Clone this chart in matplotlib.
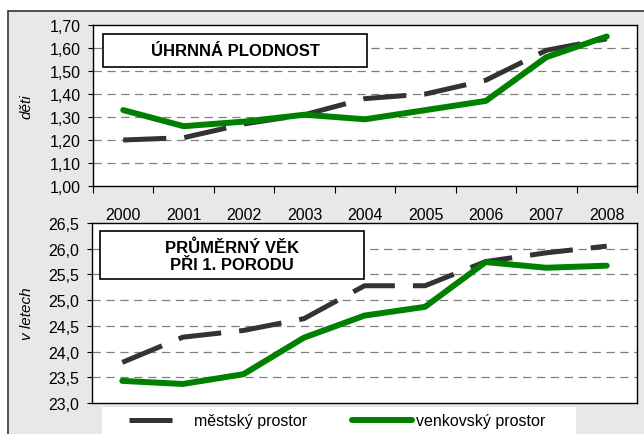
import matplotlib.pyplot as plt
from matplotlib.patches import Rectangle
from matplotlib.lines import Line2D
from matplotlib.ticker import FuncFormatter

plt.rcParams['font.family'] = ['Liberation Sans', 'DejaVu Sans']
plt.rcParams['lines.scale_dashes'] = False

years = ['2000', '2001', '2002', '2003', '2004', '2005', '2006', '2007', '2008']

# úhrnná plodnost (děti)
tfr_mesto = [1.20, 1.21, 1.27, 1.31, 1.38, 1.40, 1.46, 1.59, 1.64]
tfr_venkov = [1.33, 1.26, 1.28, 1.31, 1.29, 1.33, 1.37, 1.56, 1.65]

# průměrný věk při 1. porodu (v letech)
age_mesto = [23.79, 24.28, 24.41, 24.64, 25.28, 25.28, 25.75, 25.92, 26.05]
age_venkov = [23.43, 23.37, 23.56, 24.27, 24.70, 24.87, 25.74, 25.63, 25.67]

W, H = 644, 435
fig = plt.figure(figsize=(W / 100, H / 100), dpi=100)
fig.patch.set_facecolor('white')

# gray chart area with dark border
fig.patches.append(Rectangle((8 / W, -0.01), 1.0, (H - 12) / H + 0.01,
                             transform=fig.transFigure, facecolor='#e8e8e8',
                             edgecolor='#333333', lw=1.2, zorder=-10))

dark = '#333333'
green = '#008000'
x = list(range(len(years)))
fs = 11.5


def style_axes(ax, ymin, ymax, step, fmt):
    ax.set_facecolor('white')
    ax.set_xlim(-0.5, len(years) - 0.5)
    ax.set_ylim(ymin, ymax)
    ticks = []
    v = ymin
    while v <= ymax + 1e-9:
        ticks.append(round(v, 3))
        v += step
    ax.set_yticks(ticks)
    ax.yaxis.set_major_formatter(FuncFormatter(lambda val, p: (fmt % val).replace('.', ',')))
    for t in ticks[1:-1]:
        ax.axhline(t, color='#808080', lw=0.9, dashes=(6, 4), zorder=1)
    for s in ax.spines.values():
        s.set_color('black')
        s.set_linewidth(1.0)
    ax.tick_params(axis='y', direction='out', length=3.5, width=0.8, labelsize=fs, pad=5.5)


ax1 = fig.add_axes([93 / W, (H - 187) / H, 544 / W, 161 / H])
style_axes(ax1, 1.0, 1.7, 0.1, '%.2f')
ax1.plot(x, tfr_mesto, color=dark, lw=3.6, dashes=(31, 13), solid_capstyle='butt',
         dash_capstyle='butt', zorder=3)
ax1.plot(x, tfr_venkov, color=green, lw=4.3, solid_capstyle='round', zorder=4)
ax1.set_xticks(x)
ax1.set_xticklabels(years)
ax1.set_xticks([i - 0.5 for i in range(len(years) + 1)], minor=True)
ax1.tick_params(axis='x', which='major', length=0, labelsize=fs, pad=15)
ax1.tick_params(axis='x', which='minor', direction='out', length=5, width=0.8)
ax1.set_ylabel('děti', fontsize=11, style='italic')
ax1.yaxis.set_label_coords((33 - 93) / 544, 0.5)

ax2 = fig.add_axes([92 / W, (H - 404) / H, 545 / W, 180 / H])
style_axes(ax2, 23.0, 26.5, 0.5, '%.1f')
ax2.plot(x, age_mesto, color=dark, lw=3.6, dashes=(31, 13), dash_capstyle='butt', zorder=3)
ax2.plot(x, age_venkov, color=green, lw=4.3, solid_capstyle='round', zorder=4)
ax2.set_xticks([])
ax2.set_ylabel('v letech', fontsize=11, style='italic')
ax2.yaxis.set_label_coords((34 - 92) / 545, 0.5)

# title boxes
fig.patches.append(Rectangle((103 / W, (H - 68) / H), 264 / W, 33 / H,
                             transform=fig.transFigure, facecolor='white',
                             edgecolor='black', lw=1.2, zorder=5))
fig.text(235 / W, (H - 51.5) / H, 'ÚHRNNÁ PLODNOST', ha='center', va='center',
         fontsize=12, fontweight='bold', zorder=6)
fig.patches.append(Rectangle((100 / W, (H - 280) / H), 264 / W, 48 / H,
                             transform=fig.transFigure, facecolor='white',
                             edgecolor='black', lw=1.2, zorder=5))
fig.text(232 / W, (H - 256) / H, 'PRŮMĚRNÝ VĚK\nPŘI 1. PORODU', ha='center',
         va='center', fontsize=12, fontweight='bold', linespacing=1.15, zorder=6)

# legend
fig.patches.append(Rectangle((102 / W, -0.01), 474 / W, 27 / H + 0.01,
                             transform=fig.transFigure, facecolor='white',
                             edgecolor='none', zorder=5))
handles = [Line2D([], [], color=dark, lw=3.6, dashes=(31, 13)),
           Line2D([], [], color=green, lw=4.3, solid_capstyle='round')]
leg = fig.legend(handles, ['městský prostor', 'venkovský prostor'], ncol=2,
                 loc='center left', bbox_to_anchor=(121 / W, 13 / H),
                 frameon=False, fontsize=11.5, handlelength=3.8,
                 handletextpad=0.25, columnspacing=2.8, borderpad=0)
leg.set_zorder(7)

fig.savefig('out.png', dpi=100)
